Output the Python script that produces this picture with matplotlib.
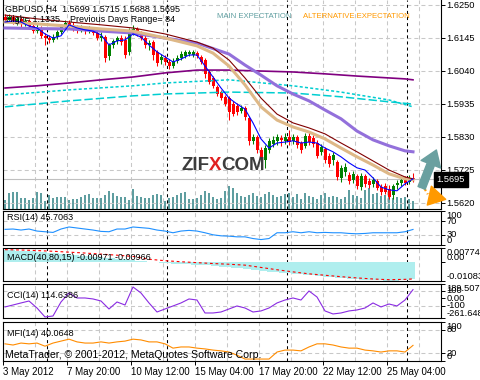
import matplotlib
matplotlib.use("Agg")
import matplotlib.pyplot as plt
from matplotlib.transforms import blended_transform_factory
from matplotlib.offsetbox import TextArea, HPacker, AnnotationBbox

W, H = 480, 380

# ---- GBPUSD H4 bars ----
opens = [1.6212, 1.6202, 1.6212, 1.6196, 1.6206, 1.6190, 1.6199, 1.6183, 1.6167, 1.6177,
         1.6152, 1.6145, 1.6139, 1.6148, 1.6164, 1.6180, 1.6193, 1.6187, 1.6177, 1.6171,
         1.6177, 1.6167, 1.6174, 1.6161, 1.6145, 1.6148, 1.6088, 1.6123, 1.6136, 1.6145,
         1.6139, 1.6101, 1.6164, 1.6174, 1.6158, 1.6145, 1.6123, 1.6132, 1.6101, 1.6075,
         1.6082, 1.6069, 1.6056, 1.6072, 1.6082, 1.6088, 1.6094, 1.6091, 1.6097, 1.6085,
         1.6075, 1.6037, 1.6018, 1.5989, 1.5973, 1.5958, 1.5954, 1.5935, 1.5929, 1.5913,
         1.5923, 1.5891, 1.5818, 1.5830, 1.5789, 1.5757, 1.5789, 1.5808, 1.5818, 1.5827,
         1.5818, 1.5830, 1.5818, 1.5830, 1.5811, 1.5802, 1.5834, 1.5827, 1.5811, 1.5783,
         1.5792, 1.5770, 1.5757, 1.5751, 1.5700, 1.5719, 1.5710, 1.5694, 1.5706, 1.5671,
         1.5706, 1.5690, 1.5681, 1.5690, 1.5671, 1.5674, 1.5665, 1.5646, 1.5678, 1.5684,
         1.5694, 1.5687, 1.5699]
highs = [1.6221, 1.6221, 1.6218, 1.6215, 1.6212, 1.6209, 1.6206, 1.6193, 1.6190, 1.6183,
         1.6161, 1.6155, 1.6158, 1.6171, 1.6190, 1.6202, 1.6202, 1.6196, 1.6187, 1.6187,
         1.6183, 1.6183, 1.6180, 1.6171, 1.6164, 1.6155, 1.6129, 1.6142, 1.6152, 1.6155,
         1.6152, 1.6177, 1.6187, 1.6180, 1.6167, 1.6155, 1.6139, 1.6139, 1.6107, 1.6094,
         1.6091, 1.6078, 1.6082, 1.6091, 1.6104, 1.6107, 1.6107, 1.6107, 1.6104, 1.6091,
         1.6082, 1.6043, 1.6024, 1.5996, 1.5980, 1.5964, 1.5961, 1.5945, 1.5938, 1.5932,
         1.5929, 1.5897, 1.5840, 1.5837, 1.5799, 1.5805, 1.5827, 1.5834, 1.5840, 1.5837,
         1.5843, 1.5853, 1.5840, 1.5837, 1.5818, 1.5843, 1.5849, 1.5837, 1.5821, 1.5808,
         1.5799, 1.5779, 1.5783, 1.5757, 1.5741, 1.5748, 1.5719, 1.5722, 1.5713, 1.5716,
         1.5713, 1.5700, 1.5703, 1.5697, 1.5681, 1.5684, 1.5678, 1.5681, 1.5694, 1.5700,
         1.5706, 1.5710, 1.5715]
lows = [1.6196, 1.6196, 1.6190, 1.6187, 1.6180, 1.6183, 1.6174, 1.6161, 1.6161, 1.6145,
        1.6123, 1.6129, 1.6132, 1.6142, 1.6158, 1.6174, 1.6177, 1.6167, 1.6161, 1.6164,
        1.6158, 1.6161, 1.6155, 1.6139, 1.6136, 1.6069, 1.6075, 1.6113, 1.6126, 1.6123,
        1.6082, 1.6091, 1.6155, 1.6152, 1.6139, 1.6113, 1.6107, 1.6075, 1.6056, 1.6062,
        1.6059, 1.6047, 1.6050, 1.6066, 1.6075, 1.6082, 1.6088, 1.6085, 1.6082, 1.6062,
        1.6018, 1.5999, 1.5986, 1.5961, 1.5948, 1.5929, 1.5884, 1.5897, 1.5900, 1.5907,
        1.5884, 1.5805, 1.5808, 1.5779, 1.5757, 1.5732, 1.5779, 1.5799, 1.5805, 1.5802,
        1.5808, 1.5805, 1.5808, 1.5795, 1.5779, 1.5795, 1.5805, 1.5799, 1.5764, 1.5773,
        1.5748, 1.5735, 1.5741, 1.5694, 1.5687, 1.5706, 1.5681, 1.5684, 1.5665, 1.5662,
        1.5671, 1.5668, 1.5671, 1.5662, 1.5646, 1.5649, 1.5633, 1.5633, 1.5665, 1.5674,
        1.5678, 1.5681, 1.5688]
closes = [1.6202, 1.6212, 1.6196, 1.6206, 1.6190, 1.6199, 1.6183, 1.6167, 1.6177, 1.6152,
          1.6145, 1.6139, 1.6148, 1.6164, 1.6180, 1.6193, 1.6187, 1.6177, 1.6171, 1.6177,
          1.6167, 1.6174, 1.6161, 1.6145, 1.6152, 1.6082, 1.6123, 1.6136, 1.6145, 1.6132,
          1.6091, 1.6164, 1.6174, 1.6158, 1.6145, 1.6123, 1.6129, 1.6091, 1.6066, 1.6085,
          1.6069, 1.6056, 1.6072, 1.6082, 1.6094, 1.6101, 1.6101, 1.6101, 1.6088, 1.6069,
          1.6031, 1.6005, 1.5993, 1.5967, 1.5954, 1.5935, 1.5910, 1.5903, 1.5910, 1.5923,
          1.5894, 1.5818, 1.5830, 1.5789, 1.5767, 1.5795, 1.5818, 1.5821, 1.5830, 1.5821,
          1.5830, 1.5814, 1.5830, 1.5805, 1.5789, 1.5834, 1.5814, 1.5808, 1.5770, 1.5799,
          1.5757, 1.5744, 1.5773, 1.5703, 1.5732, 1.5735, 1.5690, 1.5713, 1.5674, 1.5706,
          1.5681, 1.5678, 1.5694, 1.5668, 1.5655, 1.5655, 1.5640, 1.5674, 1.5684, 1.5694,
          1.5684, 1.5700, 1.5695]
volumes = [4500, 8000, 8500, 8500, 5500, 5500, 4500, 5500, 8500, 8000,
           4000, 7000, 5500, 6000, 6000, 6000, 4500, 5000, 5000, 6000,
           7000, 7500, 5500, 5500, 5500, 7000, 9000, 8000, 6500, 6000,
           6000, 4500, 10000, 6500, 6000, 5500, 5500, 7000, 7500, 7000,
           4000, 5500, 6000, 7000, 8000, 8500, 5000, 5000, 5500, 7000,
           9000, 8000, 6000, 5000, 5500, 9000, 11500, 10500, 8000, 6500,
           6000, 7000, 8000, 6500, 6000, 7500, 8500, 7000, 6000, 6500,
           7500, 8000, 6000, 7500, 5000, 8000, 6500, 6000, 5000, 7000,
           8000, 6000, 6500, 6000, 5000, 6000, 9500, 7000, 6500, 5500,
           9500, 10500, 7500, 8000, 6500, 7000, 6000, 5500, 6000, 5500,
           6000, 5000, 4000]

# moving averages (bar index, price)
fast_ma_x = list(range(0, 103, 2))
fast_ma = [1.6196, 1.6199, 1.6196, 1.6183, 1.6177, 1.6158, 1.6145, 1.6152, 1.6187, 1.6177,
           1.6171, 1.6167, 1.6155, 1.6123, 1.6136, 1.6139, 1.6158, 1.6148, 1.6123, 1.6101,
           1.6085, 1.6069, 1.6078, 1.6091, 1.6091, 1.6056, 1.6021, 1.5986, 1.5954, 1.5935,
           1.5919, 1.5875, 1.5824, 1.5795, 1.5811, 1.5814, 1.5818, 1.5811, 1.5814, 1.5811,
           1.5795, 1.5783, 1.5767, 1.5748, 1.5732, 1.5725, 1.5700, 1.5671, 1.5662, 1.5659,
           1.5681, 1.5697]
mid_ma_x = [0, 8, 16, 24, 32, 40, 48, 52, 56, 60, 64, 68, 72, 76, 80, 84, 88, 92, 96, 100, 102]
tan_ma = [1.6196, 1.6190, 1.6183, 1.6174, 1.6167, 1.6145, 1.6120, 1.6097, 1.6056, 1.5996, 1.5926,
          1.5884, 1.5862, 1.5846, 1.5824, 1.5795, 1.5767, 1.5741, 1.5713, 1.5697, 1.5694]
maroon_ma = [1.6218, 1.6206, 1.6196, 1.6187, 1.6177, 1.6158, 1.6132, 1.6113, 1.6075, 1.6018, 1.5954,
             1.5903, 1.5875, 1.5859, 1.5840, 1.5811, 1.5783, 1.5754, 1.5725, 1.5703, 1.5697]
slow_ma_x = [0, 8, 16, 24, 32, 40, 48, 56, 60, 64, 68, 72, 76, 80, 84, 88, 92, 96, 100, 102]
slow_ma = [1.6177, 1.6175, 1.6174, 1.6167, 1.6161, 1.6145, 1.6129, 1.6094, 1.6059, 1.6027,
           1.5993, 1.5967, 1.5945, 1.5916, 1.5888, 1.5849, 1.5821, 1.5802, 1.5786, 1.5783]
long_ma_x = [0, 8, 16, 24, 32, 40, 48, 56, 64, 72, 80, 88, 96, 100, 102]
long_ma = [1.5986, 1.5993, 1.6002, 1.6012, 1.6021, 1.6034, 1.6043, 1.6043, 1.6040, 1.6037,
           1.6031, 1.6024, 1.6018, 1.6015, 1.6012]
cyan_x = [0, 16, 32, 40, 56, 72, 84, 96, 102]
cyan_short = [1.5964, 1.5980, 1.5993, 1.6002, 1.6012, 1.5993, 1.5973, 1.5948, 1.5926]
cyan_long = [1.5926, 1.5945, 1.5961, 1.5967, 1.5973, 1.5970, 1.5958, 1.5942, 1.5935]

# oscillators, every second bar
osc_x = list(range(0, 103, 2))
rsi = [46, 47, 44, 47, 41, 39, 37, 47, 53, 50,
       47, 44, 40, 39, 47, 47, 53, 51, 49, 44,
       41, 36, 41, 43, 41, 36, 30, 27, 26, 24,
       24, 19, 16, 19, 36, 36, 39, 36, 39, 36,
       37, 36, 36, 34, 33, 34, 36, 36, 36, 36,
       39, 45.7063]
cci = [-115, -89, -62, -36, -129, -248, -235, -49, 70, 4,
       4, -9, -36, -142, -49, -89, 150, 70, -62, -182,
       -142, -102, -62, -9, -23, -195, -195, -182, -142, -102,
       -129, -182, -168, -129, -62, -23, 4, -23, 97, 17,
       -168, -208, -195, -168, -155, -129, -62, -115, -76, -102,
       -23, 114.6386]
mfi = [44, 41, 46, 44, 46, 38, 46, 51, 56, 49,
       46, 46, 49, 46, 49, 51, 56, 54, 49, 49,
       44, 33, 36, 36, 33, 31, 28, 26, 23, 15,
       5, 5, 5, 5, 23, 28, 28, 26, 36, 44,
       44, 41, 36, 33, 33, 28, 26, 23, 26, 26,
       23, 40.0648]

# MACD(40,80,15): histogram for each bar, signal every 4th bar
macd = [0.0066, 0.0065, 0.0064, 0.0063, 0.0062, 0.0061, 0.0060, 0.0058, 0.0057, 0.0055,
        0.0053, 0.0051, 0.0049, 0.0047, 0.0045, 0.0043, 0.0041, 0.0039, 0.0037, 0.0035,
        0.0033, 0.0031, 0.0029, 0.0027, 0.0025, 0.0023, 0.0021, 0.0019, 0.0017, 0.0015,
        0.0013, 0.0011, 0.0009, 0.0007, 0.0005, 0.0003, 0.0001, -0.0001, -0.0003, -0.0005,
        -0.0007, -0.0009, -0.0011, -0.0012, -0.0013, -0.0014, -0.0015, -0.0016, -0.0017, -0.0018,
        -0.0019, -0.0021, -0.0023, -0.0025, -0.0027, -0.0029, -0.0031, -0.0033, -0.0035, -0.0037,
        -0.0039, -0.0041, -0.0044, -0.0047, -0.0050, -0.0053, -0.0055, -0.0057, -0.0059, -0.0061,
        -0.0063, -0.0065, -0.0067, -0.0069, -0.0071, -0.0073, -0.0075, -0.0077, -0.0079, -0.0081,
        -0.0083, -0.0085, -0.0087, -0.0089, -0.0091, -0.0093, -0.0095, -0.0097, -0.0099, -0.0100,
        -0.0101, -0.0102, -0.0103, -0.0104, -0.0105, -0.0106, -0.0107, -0.0107, -0.0106, -0.0105,
        -0.0103, -0.0101, -0.00971]
signal_x = [0, 4, 8, 12, 16, 20, 24, 28, 32, 36, 40, 44, 48, 52, 56, 60, 64, 68, 72, 76, 80,
            84, 88, 92, 96, 100, 102]
signal = [0.0068, 0.0066, 0.0063, 0.0059, 0.0054, 0.0049, 0.0043, 0.0037, 0.0030, 0.0014,
          0.0006, 0.0000, -0.0005, -0.0010, -0.0014, -0.0019, -0.0032, -0.0045, -0.0057,
          -0.0068, -0.0076, -0.0084, -0.0091, -0.0097, -0.0101, -0.0099, -0.00966]

price_ticks = [1.6250, 1.6145, 1.6040, 1.5935, 1.5830, 1.5725, 1.5620]
date_ticks = [0, 16, 32, 48, 64, 80, 96]
date_labels = ["3 May 2012", "7 May 20:00", "10 May 12:00", "15 May 04:00",
               "17 May 20:00", "22 May 12:00", "25 May 04:00"]
week_starts = [11, 41, 71, 101]

plt.rcParams['font.family'] = ['Liberation Sans', 'DejaVu Sans']
plt.rcParams['lines.scale_dashes'] = False

GRID = '#c8c8c8'


def box(x0, y0, x1, y1):
    # pixel box (from top-left) -> figure fraction
    return [x0 / W, 1 - y1 / H, (x1 - x0) / W, (y1 - y0) / H]


def style_panel(a, ylim, ticks, labels, vas, levels=()):
    a.set_xlim(0, 109.5)
    a.set_ylim(*ylim)
    for s in a.spines.values():
        s.set_color('black')
        s.set_linewidth(0.8)
    a.yaxis.tick_right()
    a.set_yticks(ticks)
    a.set_yticklabels(labels)
    for lab, va in zip(a.get_yticklabels(), vas):
        lab.set_va(va)
    a.tick_params(axis='y', length=3, width=0.7, labelsize=6.7, pad=1)
    a.tick_params(axis='x', bottom=False, labelbottom=False)
    for gx in range(8, 110, 8):
        a.axvline(gx, color=GRID, lw=0.75, ls=(0, (2.9, 2.2)), zorder=0)
    for lv in levels:
        a.axhline(lv, color=GRID, lw=0.75, ls=(0, (2.9, 2.2)), zorder=0)
    for wx in week_starts:
        a.axvline(wx, color='black', lw=0.75, ls=(0, (2.2, 2.2)), zorder=1)


fig = plt.figure(figsize=(4.8, 3.8), dpi=100)

# ---- main price window ----
ax = fig.add_axes(box(3, 0, 441, 209))

# volumes on a hidden twin axis (made first, twinx resets the tick side)
ax_v = ax.twinx()
ax_v.set_ylim(0, 104500)
ax_v.axis('off')
ax_v.bar([i + 0.5 for i in range(len(volumes))], volumes, width=0.3, color='#5f9ea0', lw=0)
ax_v.set_zorder(ax.get_zorder() - 1)
ax.patch.set_visible(False)

style_panel(ax, (1.5601, 1.6266), price_ticks, [f"{p:.4f}" for p in price_ticks],
            ['center'] * 7, levels=price_ticks)
ax.spines['top'].set_visible(False)

# candles
for i, (o, h, l, c) in enumerate(zip(opens, highs, lows, closes)):
    col = '#008000' if c >= o else '#ff0000'
    ax.vlines(i + 0.5, l, h, color=col, lw=0.75, zorder=3)
    ax.bar(i + 0.5, max(abs(c - o), 0.00005), bottom=min(o, c), width=0.75, color=col, lw=0, zorder=3)

# moving averages
ax.plot([x + 0.5 for x in long_ma_x], long_ma, color='#800080', lw=1.2, zorder=4)
ax.plot([x + 0.5 for x in cyan_x], cyan_short, color='#00ced1', lw=1.1, ls=(0, (2.2, 1.6)), zorder=4)
ax.plot([x + 0.5 for x in cyan_x], cyan_long, color='#00ced1', lw=1.1, ls=(0, (6, 2.2)), zorder=4)
ax.plot([x + 0.5 for x in slow_ma_x], slow_ma, color='#9370db', lw=2.2, zorder=4)
ax.plot([x + 0.5 for x in mid_ma_x], tan_ma, color='#deb887', lw=2.2, zorder=4)
ax.plot([x + 0.5 for x in mid_ma_x], maroon_ma, color='#800000', lw=0.8, zorder=5)
ax.plot([x + 0.5 for x in fast_ma_x], fast_ma, color='#0000ff', lw=0.8, zorder=5)

# bid line + price label
last = closes[-1]
ax.axhline(last, color='#c0c0c0', lw=0.8, zorder=2)
ax.text(0.99, last, f"{last:.4f}", transform=blended_transform_factory(ax.transAxes, ax.transData),
        ha='left', va='center', fontsize=6.7, color='white', clip_on=False,
        bbox=dict(boxstyle='square,pad=0.3', fc='black', ec='black'), zorder=10)

# expectation arrows
ax.annotate('', xy=(108.6, 1.5797), xytext=(104.4, 1.5660),
            arrowprops=dict(arrowstyle='simple,head_length=1.1,head_width=1.5,tail_width=0.55',
                            mutation_scale=10, fc='#6aa0a0', ec='#6aa0a0'), annotation_clip=False)
ax.plot([104.5, 106.2], [1.5685, 1.5648], color='#ff9900', lw=1.6, ls=(0, (2.5, 2)), clip_on=False)
ax.annotate('', xy=(105.6, 1.5607), xytext=(107.4, 1.5632),
            arrowprops=dict(arrowstyle='simple,head_length=1.2,head_width=1.4,tail_width=0.01',
                            mutation_scale=10, fc='#ff9900', ec='#ff9900'), annotation_clip=False)

# ---- RSI ----
ax_rsi = fig.add_axes(box(3, 211, 441, 245))
style_panel(ax_rsi, (0, 100), [100, 70, 30, 0], ["100", "70", "30", "0"],
            ['top', 'center', 'center', 'bottom'], levels=(70, 30))
ax_rsi.plot([x + 0.5 for x in osc_x], rsi, color='#1e90ff', lw=0.8)

# ---- MACD ----
ax_macd = fig.add_axes(box(3, 248, 441, 281))
style_panel(ax_macd, (-0.01083, 0.00774), [0.00774, 0.0, -0.01083],
            ["0.00774", "0.00", "-0.01083"], ['top', 'bottom', 'bottom'])
ax_macd.bar([i + 0.5 for i in range(len(macd))], macd, width=0.8, color='#afeeee', lw=0, zorder=2)
ax_macd.plot([x + 0.5 for x in signal_x], signal, color='#ff0000', lw=0.8, ls=(0, (2, 2)), zorder=3)

# ---- CCI ----
ax_cci = fig.add_axes(box(3, 284, 441, 318))
style_panel(ax_cci, (-261.648, 189.5077), [189.5077, 100, 0, -100, -261.648],
            ["189.5077", "100", "0.00", "-100", "-261.648"],
            ['top', 'center', 'center', 'center', 'bottom'], levels=(100, -100))
ax_cci.plot([x + 0.5 for x in osc_x], cci, color='#8a2be2', lw=0.8)

# ---- MFI ----
ax_mfi = fig.add_axes(box(3, 322, 441, 361))
style_panel(ax_mfi, (0, 100), [100, 80, 20, 0], ["100", "80", "20", "0"],
            ['top', 'center', 'center', 'bottom'], levels=(80, 20))
ax_mfi.plot([x + 0.5 for x in osc_x], mfi, color='#ff8c00', lw=0.8)
ax_mfi.tick_params(axis='x', bottom=True, labelbottom=True, length=3, width=0.7,
                   labelsize=7, pad=1.5)
ax_mfi.set_xticks(date_ticks)
ax_mfi.set_xticklabels(date_labels, ha='left')

# ---- texts ----
def ftext(x, y, s, **kw):
    fig.text(x / W, 1 - y / H, s, va='center', ha='left', **kw)


ftext(5, 9, "GBPUSD,H4  1.5699 1.5715 1.5688 1.5695", fontsize=6.5)
ftext(6, 20, "High= 1.1335    Previous Days Range= 84", fontsize=6.5)
ftext(217, 17, "MAIN EXPECTATION", fontsize=5.6, color='#5f9ea0')
ftext(303, 17, "ALTERNATIVE EXPECTATION", fontsize=5.6, color='#ff9900')
ftext(7, 218, "RSI(14) 45.7063", fontsize=6.5)
ftext(7, 257, "MACD(40,80,15) -0.00971 -0.00966", fontsize=6.5)
ftext(7, 295, "CCI(14) 114.6386", fontsize=6.5)
ftext(7, 333, "MFI(14) 40.0648", fontsize=6.5)
ftext(5, 355, "MetaTrader, \u00a9 2001-2012, MetaQuotes Software Corp.", fontsize=7.6)

# logo
logo_props = dict(fontsize=13.5, fontweight='bold', family='Liberation Sans')
logo = HPacker(children=[TextArea("ZIF", textprops=dict(color='#3c3c3c', **logo_props)),
                         TextArea("X", textprops=dict(color='#e02020', **logo_props)),
                         TextArea("COM", textprops=dict(color='#3c3c3c', **logo_props))],
               pad=0, sep=0)
fig.add_artist(AnnotationBbox(logo, (181, H - 166), xycoords='figure pixels',
                              box_alignment=(0, 0.5), frameon=False))

fig.savefig('out.png', dpi=100)
